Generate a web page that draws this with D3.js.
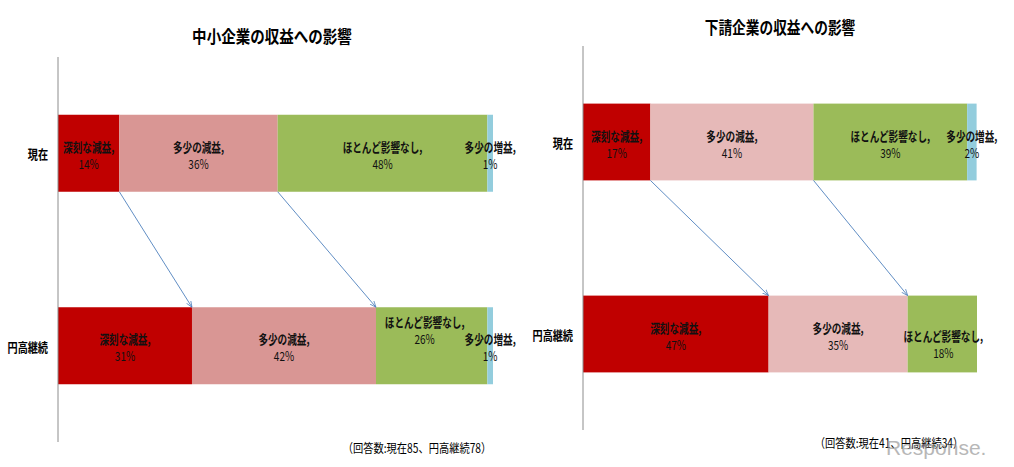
<!DOCTYPE html>
<html><head><meta charset="utf-8">
<script src="https://cdn.jsdelivr.net/npm/d3@7"></script>
<style>
html,body{margin:0;padding:0;background:#fff;}
svg{display:block;font-family:"Noto Sans CJK JP","Noto Sans",sans-serif;}
</style>
</head><body>
<svg id="c" width="1014" height="467"></svg>
<script>
// ---- data ----
const categories = ["現在", "円高継続"];
const seriesNames = ["深刻な減益", "多少の減益", "ほとんど影響なし", "多少の増益"];
// 中小企業 (percent of respondents)
const smeNow = [14.1, 36.4, 48.2, 1.3];
const smeYen = [30.8, 42.3, 25.6, 1.3];
// 下請企業
const subNow = [17.1, 41.4, 39.0, 2.4];
const subYen = [47.1, 35.3, 17.6, 0];
const titles = ["中小企業の収益への影響", "下請企業の収益への影響"];
const notes = ["（回答数:現在85、円高継続78）", "（回答数:現在41、円高継続34）"];

// ---- drawing ----
const svg = d3.select("#c");
const defs = svg.append("defs");
defs.append("marker").attr("id","arr").attr("viewBox","0 0 10 10")
  .attr("refX",10).attr("refY",5).attr("markerWidth",7).attr("markerHeight",7)
  .attr("orient","auto-start-reverse")
  .append("path").attr("d","M0,1 L10,5 L0,9").attr("fill","none")
  .attr("stroke","#4F81BD").attr("stroke-width",1.2);

function txt(g, x, y, s, size, opts={}) {
  return g.append("text")
    .attr("transform", `translate(${x},${y}) scale(${opts.sx||0.78},1)`)
    .attr("text-anchor", opts.anchor||"middle")
    .attr("dominant-baseline","central")
    .attr("font-size", size)
    .attr("font-weight", opts.weight||"normal")
    .attr("fill", opts.fill||"#000")
    .text(s);
}

const panels = [
  {rows:[smeNow, smeYen], title:titles[0], note:notes[0],
   xr:[58,493], yr:[57,442], tx:272, ty:35, tsize:17.5, nx:417, ny:448,
   colors:["#C00000","#D99694","#9BBB59","#93CDDD"],
   nudge:{"1-2":[-7,-17]}},
  {rows:[subNow, subYen], title:titles[1], note:notes[1],
   xr:[583,977], yr:[46,430], tx:780, ty:26, tsize:16.5, nx:889, ny:443,
   colors:["#C00000","#E6B9B8","#9BBB59","#93CDDD"],
   nudge:{"1-2":[1,8]}}
];

panels.forEach(p => {
  const g = svg.append("g");
  const x = d3.scaleLinear().domain([0,100]).range(p.xr);
  const y = d3.scalePoint().domain(categories).range(p.yr).padding(0.5);
  const bh = y.step()*0.4;

  // title
  txt(g, p.tx, p.ty, p.title, p.tsize, {weight:"bold", sx:0.83});

  // stacked data
  const rows = p.rows.map((vals, ri) => {
    let acc = 0;
    return vals.map((v, si) => {
      const s = {ri, si, v, x0:acc, x1:acc+v, cat:categories[ri]};
      acc += v; return s;
    });
  });

  rows.forEach(r => {
    g.selectAll(null).data(r.filter(d=>d.v>0)).enter().append("rect")
      .attr("x", d=>x(d.x0)).attr("width", d=>x(d.x1)-x(d.x0))
      .attr("y", d=>y(d.cat)-bh/2).attr("height", bh)
      .attr("fill", d=>p.colors[d.si]);
  });

  // axis line
  g.append("line").attr("x1",p.xr[0]).attr("x2",p.xr[0])
    .attr("y1",p.yr[0]).attr("y2",p.yr[1]).attr("stroke","#8c8c8c").attr("stroke-width",1);

  // category labels
  categories.forEach(c => txt(g, p.xr[0]-10, y(c), c, 13, {anchor:"end", weight:"bold"}));

  // data labels
  rows.forEach(r => r.filter(d=>d.v>0).forEach(d => {
    const n = p.nudge[d.ri+"-"+d.si] || [0,0];
    const cx = (x(d.x0)+x(d.x1))/2 + n[0];
    const cy = y(d.cat) + n[1];
    txt(g, cx, cy-7, seriesNames[d.si]+",", 13, {weight:"bold", sx:0.74, fill:"#111"});
    txt(g, cx, cy+10, Math.round(d.v)+"%", 12.5, {sx:0.8, fill:"#111"});
  }));

  // arrows between boundary of segments 0 and 1
  [0,1].forEach(si => {
    const a = rows[0][si], b = rows[1][si];
    g.append("line")
      .attr("x1", x(a.x1)).attr("y1", y(categories[0])+bh/2)
      .attr("x2", x(b.x1)).attr("y2", y(categories[1])-bh/2)
      .attr("stroke","#4F81BD").attr("stroke-width",0.9)
      .attr("marker-end","url(#arr)");
  });

  // note
  txt(g, p.nx, p.ny, p.note, 12.5, {sx:0.82});
});

// watermark (logo of the source site)
svg.append("text").attr("x",886).attr("y",455).attr("font-size",21)
  .attr("font-family","Liberation Sans, Arial, sans-serif")
  .attr("fill","#9a9a9a").attr("opacity",0.7).text("Response.");
</script>
</body></html>
